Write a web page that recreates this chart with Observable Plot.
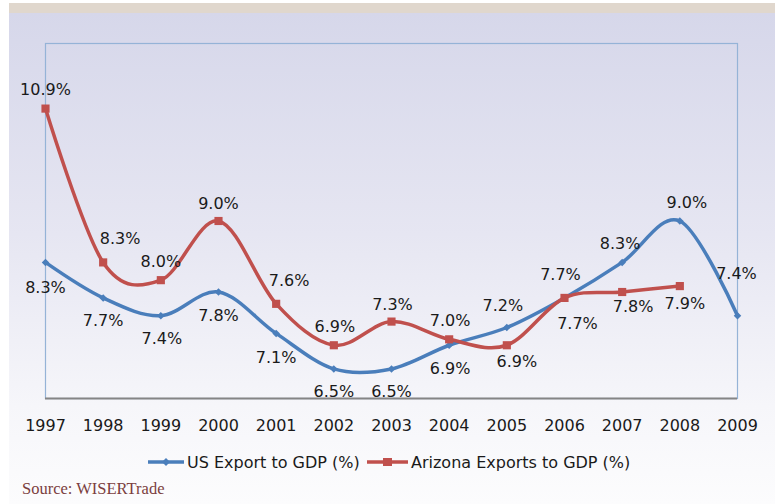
<!DOCTYPE html>
<html><head><meta charset="utf-8">
<script src="https://cdn.jsdelivr.net/npm/d3@7"></script>
<script src="https://cdn.jsdelivr.net/npm/@observablehq/plot@0.6"></script>
<style>
body{margin:0;background:#fff;}
#wrap{position:relative;width:780px;height:504px;overflow:hidden;font-family:"DejaVu Sans",sans-serif;}
#strip{position:absolute;left:9px;top:3px;width:766px;height:10px;background:#e0d7cd;}
#bg{position:absolute;left:9px;top:13px;width:766px;height:491px;background:linear-gradient(to bottom,#d6d7ea 0%,#e6e6f2 45%,#f6f6fa 80%,#fcfcfd 100%);}
#chart{position:absolute;left:0;top:0;}
.leg{position:absolute;top:452px;height:20px;display:flex;align-items:center;font-size:16px;color:#1a1a1a;white-space:nowrap;}
.leg svg{margin-right:3px;}
#source{position:absolute;left:22px;top:479px;font-family:"Liberation Serif",serif;font-size:16.5px;color:#7b3f3f;}
</style></head><body>
<div id="wrap">
  <div id="strip"></div>
  <div id="bg"></div>
  <div id="chart"></div>
  <div class="leg" id="leg1" style="left:148px"></div>
  <div class="leg" id="leg2" style="left:367px"></div>
  <div id="source"></div>
</div>
<script>
// ---- data ----
const years = [1997,1998,1999,2000,2001,2002,2003,2004,2005,2006,2007,2008,2009];
const usValues = [8.3,7.7,7.4,7.8,7.1,6.5,6.5,6.9,7.2,7.7,8.3,9.0,7.4];
const azYears = [1997,1998,1999,2000,2001,2002,2003,2004,2005,2006,2007,2008];
const azValues = [10.9,8.3,8.0,9.0,7.6,6.9,7.3,7.0,6.9,7.7,7.8,7.9];
const seriesNames = ["US Export to GDP (%)", "Arizona Exports to GDP (%)"];
const sourceText = "Source: WISERTrade";

// ---- label placement (pixel offsets from each point) ----
const usLabelOffsets = [[0,25],[0,23],[1,23],[0,24],[0,24],[0,23],[0,23],[1,24],[-4,-22],[-4,-23],[-2,-19],[7,-18],[-1,-42]];
const azLabelOffsets = [[0,-19],[17,-24],[0,-18],[0,-17],[13,-23],[1,-18],[1,-17],[1,-18],[10,17],[13,26],[11,15],[5,18]];

const blue = "#4a7ebb", red = "#c0504d";
const us = years.map((y,i)=>({year:y, value:usValues[i]}));
const az = azYears.map((y,i)=>({year:y, value:azValues[i]}));
const fmt = v => v.toFixed(1) + "%";

const labelMarks = [];
us.forEach((d,i)=>labelMarks.push(Plot.text([d],{x:"year",y:"value",text:d=>fmt(d.value),dx:usLabelOffsets[i][0],dy:usLabelOffsets[i][1],lineAnchor:"middle",textAnchor:"middle",fill:"#1a1a1a",fontSize:16})));
az.forEach((d,i)=>labelMarks.push(Plot.text([d],{x:"year",y:"value",text:d=>fmt(d.value),dx:azLabelOffsets[i][0],dy:azLabelOffsets[i][1],lineAnchor:"middle",textAnchor:"middle",fill:"#1a1a1a",fontSize:16})));

const chart = Plot.plot({
  width:780, height:445,
  marginLeft:45, marginRight:43, marginTop:43, marginBottom:47,
  style:{background:"transparent", fontFamily:"DejaVu Sans, sans-serif", fontSize:"16px", color:"#1a1a1a", overflow:"visible"},
  x:{domain:[1997,2009], axis:null, label:null},
  y:{domain:[6,12], axis:null, label:null},
  marks:[
    Plot.frame({stroke:"#95b3d7", strokeWidth:1.2}),
    Plot.ruleY([6],{stroke:"#858585", strokeWidth:2}),
    Plot.axisX({ticks:years, tickSize:0, tickPadding:21, tickFormat:d=>String(d), fontSize:16, fill:"#1a1a1a", label:null}),
    Plot.line(us,{x:"year",y:"value",stroke:blue,strokeWidth:3.5,curve:"cardinal"}),
    Plot.dot(us,{x:"year",y:"value",symbol:"diamond2",r:3.4,fill:blue}),
    Plot.line(az,{x:"year",y:"value",stroke:red,strokeWidth:3.5,curve:"cardinal"}),
    Plot.dot(az,{x:"year",y:"value",symbol:"square",r:4.6,fill:red}),
    ...labelMarks
  ]
});
document.getElementById("chart").appendChild(chart);

document.getElementById("leg1").innerHTML =
  '<svg width="36" height="20"><line x1="0" y1="10" x2="36" y2="10" stroke="'+blue+'" stroke-width="3.5"/><path d="M18,6 L22,10 L18,14 L14,10Z" fill="'+blue+'"/></svg><span></span>';
document.querySelector("#leg1 span").textContent = seriesNames[0];
document.getElementById("leg2").innerHTML =
  '<svg width="41" height="20"><line x1="0" y1="10" x2="41" y2="10" stroke="'+red+'" stroke-width="3.5"/><rect x="16" y="6" width="9" height="8" fill="'+red+'"/></svg><span></span>';
document.querySelector("#leg2 span").textContent = seriesNames[1];
document.getElementById("source").textContent = sourceText;
</script>
</body></html>
